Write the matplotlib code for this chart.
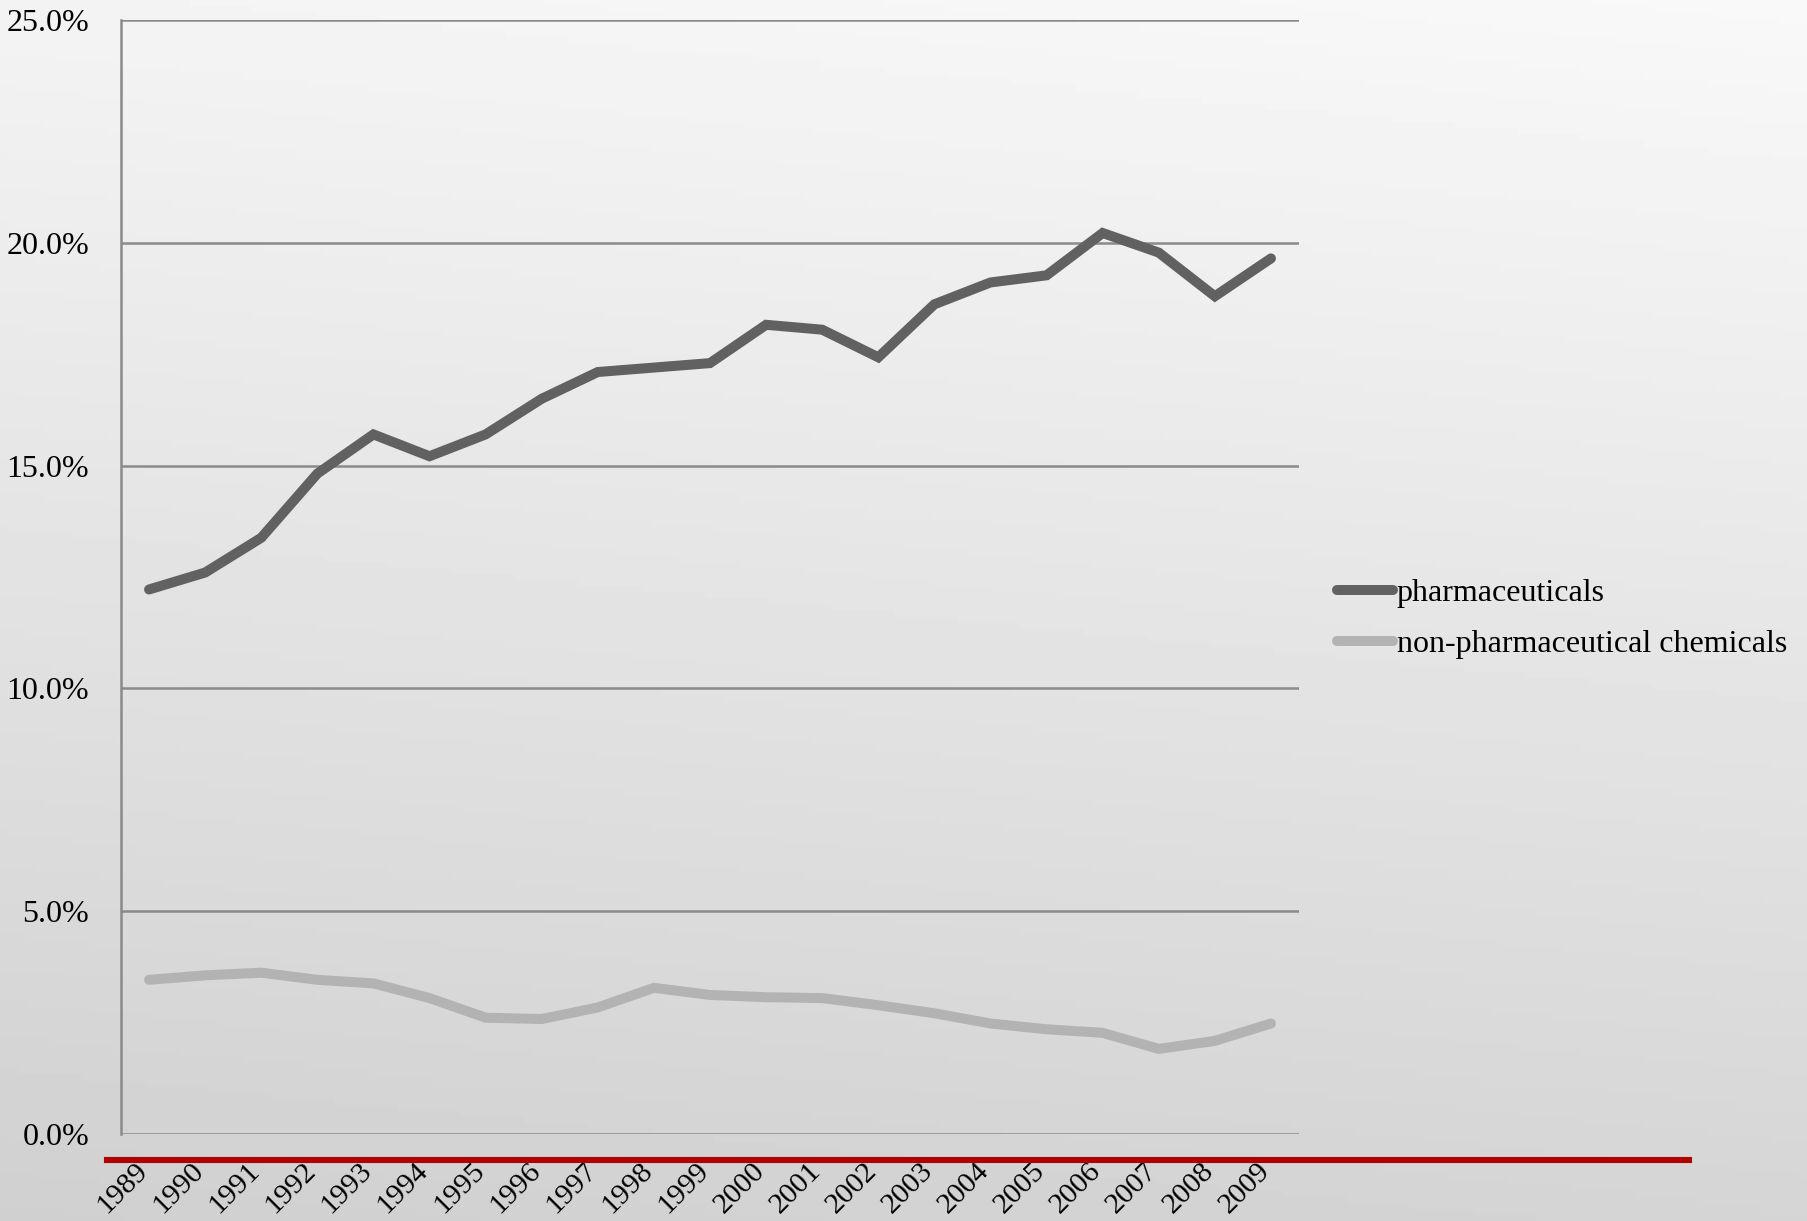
import matplotlib
matplotlib.use("Agg")
import matplotlib.pyplot as plt
import matplotlib.transforms as mtransforms
from matplotlib.lines import Line2D
from matplotlib.ticker import FuncFormatter
import numpy as np

plt.rcParams["font.family"] = ["Liberation Serif", "DejaVu Serif"]

# data (share of value, %)
years = [str(y) for y in range(1989, 2010)]
pharmaceuticals = [12.22, 12.60, 13.38, 14.82, 15.70, 15.21, 15.70, 16.50, 17.10, 17.20, 17.30,
                   18.16, 18.05, 17.43, 18.62, 19.11, 19.27, 20.22, 19.78, 18.80, 19.65]
non_pharma = [3.46, 3.56, 3.62, 3.46, 3.38, 3.05, 2.61, 2.58, 2.84, 3.28, 3.12,
              3.07, 3.05, 2.89, 2.71, 2.48, 2.35, 2.27, 1.91, 2.09, 2.48]
series_labels = ["pharmaceuticals", "non-pharmaceutical chemicals"]
yticks = [0, 5, 10, 15, 20, 25]

W, H = 1807, 1221
fig = plt.figure(figsize=(W / 100, H / 100), dpi=100)

# paper-like grey gradient background
bg = fig.add_axes([0, 0, 1, 1], zorder=-10)
yy, xx = np.mgrid[0:1:200j, 0:1:200j]
shade = 0.955 - 0.14 * yy + 0.02 * xx
bg.imshow(shade, cmap="gray", vmin=0, vmax=1, aspect="auto", extent=[0, 1, 0, 1])
bg.axis("off")

ax = fig.add_axes([121 / W, 1 - 1134 / H, (1299 - 121) / W, (1134 - 20) / H])
ax.patch.set_alpha(0)

x = np.arange(len(years))
ax.plot(x, pharmaceuticals, color="#616161", lw=7.2, solid_capstyle="round",
        solid_joinstyle="miter", label=series_labels[0], zorder=3)
ax.plot(x, non_pharma, color="#b3b3b3", lw=7.2, solid_capstyle="round",
        solid_joinstyle="miter", label=series_labels[1], zorder=3)

ax.set_xlim(-0.5, len(years) - 0.5)
ax.set_ylim(0, 25)
ax.set_yticks(yticks)
ax.yaxis.set_major_formatter(FuncFormatter(lambda v, p: f"{v:.1f}%"))
ax.grid(axis="y", color="#8a8a8a", lw=1.8)
ax.set_axisbelow(True)
for s in ["top", "right", "bottom"]:
    ax.spines[s].set_visible(False)
ax.spines["left"].set_color("#8a8a8a")
ax.spines["left"].set_linewidth(1.8)

ax.set_xticks(x)
ax.set_xticklabels(years, rotation=45, ha="right", va="top", rotation_mode="anchor")
ax.tick_params(axis="x", length=0, pad=17, labelsize=21.5)
ax.tick_params(axis="y", length=0, pad=23, labelsize=23)
shift = mtransforms.ScaledTranslation(-0.145, 0, fig.dpi_scale_trans)
for lab in ax.get_xticklabels():
    lab.set_transform(lab.get_transform() + shift)

# red rule under the plot
fig.add_artist(Line2D([107 / W, 1689 / W], [1 - 1160 / H, 1 - 1160 / H],
                      color="#b00000", lw=4.4))

leg = ax.legend(loc="center left", bbox_to_anchor=(1337 / W, 1 - 619 / H),
                bbox_transform=fig.transFigure, frameon=False, fontsize=23,
                handlelength=1.75, handletextpad=0.12, borderpad=0,
                borderaxespad=0, labelspacing=0.67)

fig.savefig("out.png", dpi=100)
